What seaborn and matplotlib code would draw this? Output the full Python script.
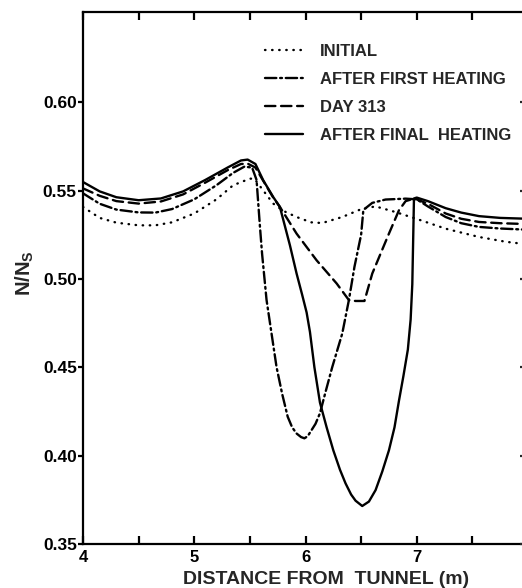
import matplotlib
matplotlib.use("Agg")
import matplotlib.pyplot as plt
import seaborn as sns
import pandas as pd

# ---- data ----
initial_x = [4.00, 4.15, 4.30, 4.50, 4.65, 4.80, 5.00, 5.20, 5.35, 5.50, 5.54, 5.62, 5.71, 5.80,
             5.92, 6.05, 6.15, 6.33, 6.51, 6.63, 6.81, 7.02, 7.26, 7.56, 7.80, 8.00]
initial_y = [0.5407, 0.5345, 0.5318, 0.5303, 0.5303, 0.5320, 0.5370, 0.5450, 0.5530, 0.5567, 0.5567,
             0.5500, 0.5426, 0.5385, 0.5350, 0.5320, 0.5316, 0.5350, 0.5397, 0.5410, 0.5378, 0.5335,
             0.5284, 0.5237, 0.5210, 0.5195]

first_x = [4.00, 4.15, 4.30, 4.50, 4.65, 4.80, 5.00, 5.20, 5.35, 5.45, 5.52, 5.56, 5.59, 5.61, 5.65,
           5.74, 5.79, 5.84, 5.88, 5.92, 5.96, 5.99, 6.02, 6.05, 6.09, 6.13, 6.18, 6.24, 6.33, 6.39,
           6.44, 6.50, 6.52, 6.60, 6.72, 6.90, 7.00, 7.10, 7.26, 7.40, 7.56, 7.75, 8.00]
first_y = [0.5484, 0.5425, 0.5392, 0.5376, 0.5375, 0.5395, 0.5450, 0.5530, 0.5600, 0.5635, 0.5630,
           0.5560, 0.5300, 0.5140, 0.4880, 0.4500, 0.4350, 0.4220, 0.4160, 0.4125, 0.4105, 0.4098,
           0.4110, 0.4140, 0.4180, 0.4240, 0.4360, 0.4500, 0.4690, 0.4880, 0.5068, 0.5250, 0.5390,
           0.5430, 0.5449, 0.5454, 0.5450, 0.5410, 0.5350, 0.5315, 0.5294, 0.5285, 0.5278]

day313_x = [4.00, 4.15, 4.30, 4.50, 4.70, 4.90, 5.10, 5.30, 5.42, 5.48, 5.55, 5.62, 5.71, 5.77, 5.92,
            6.10, 6.28, 6.39, 6.45, 6.53, 6.60, 6.75, 6.84, 6.90, 6.98, 7.10, 7.26, 7.40, 7.56,
            7.75, 8.00]
day313_y = [0.5512, 0.5470, 0.5440, 0.5426, 0.5438, 0.5478, 0.5545, 0.5615, 0.5650, 0.5652, 0.5630,
            0.5555, 0.5460, 0.5407, 0.5256, 0.5105, 0.4974, 0.4880, 0.4875, 0.4875, 0.5030, 0.5256,
            0.5388, 0.5440, 0.5455, 0.5425, 0.5370, 0.5340, 0.5322, 0.5315, 0.5310]

final_x = [4.00, 4.15, 4.30, 4.50, 4.70, 4.90, 5.10, 5.30, 5.42, 5.48, 5.55, 5.62, 5.71, 5.77, 5.86,
           5.92, 5.97, 6.01, 6.04, 6.08, 6.13, 6.19, 6.25, 6.31, 6.36, 6.41, 6.45, 6.51, 6.57, 6.63,
           6.69, 6.75, 6.80, 6.84, 6.88, 6.92, 6.945, 6.96, 6.975, 7.00, 7.10, 7.26, 7.40, 7.56,
           7.75, 8.00]
final_y = [0.5548, 0.5495, 0.5462, 0.5445, 0.5455, 0.5495, 0.5560, 0.5630, 0.5670, 0.5675, 0.5650,
           0.5558, 0.5463, 0.5407, 0.5190, 0.5030, 0.4910, 0.4810, 0.4700, 0.4500, 0.4300, 0.4160,
           0.4030, 0.3920, 0.3843, 0.3780, 0.3745, 0.3715, 0.3740, 0.3805, 0.3910, 0.4030, 0.4160,
           0.4310, 0.4450, 0.4600, 0.4770, 0.4970, 0.5455, 0.5460, 0.5440, 0.5400, 0.5375, 0.5355,
           0.5345, 0.5340]

labels = ["INITIAL", "AFTER FIRST HEATING", "DAY 313", "AFTER FINAL  HEATING"]
x_ticks = [4, 5, 6, 7, 8]
y_ticks = [0.35, 0.40, 0.45, 0.50, 0.55, 0.60]

sns.set_theme(style="white")
plt.rcParams['font.family'] = ['Liberation Sans', 'DejaVu Sans']
plt.rcParams['mathtext.fontset'] = 'custom'
plt.rcParams['mathtext.rm'] = 'Liberation Sans:bold'

W, H = 522, 588
fig = plt.figure(figsize=(W / 100, H / 100), dpi=100)
left_px, right_px, top_px, bot_px = 83, 528, 12, 544
ax = fig.add_axes([left_px / W, 1 - bot_px / H, (right_px - left_px) / W, (bot_px - top_px) / H])

series = [
    (initial_x, initial_y, (0, (0.2, 2.8))),
    (first_x, first_y, (0, (4.8, 1.6, 0.8, 1.6))),
    (day313_x, day313_y, (0, (4.4, 2.4))),
    (final_x, final_y, "-"),
]
for (xs, ys, ls), lab in zip(series, labels):
    df = pd.DataFrame({"x": xs, "y": ys})
    sns.lineplot(data=df, x="x", y="y", ax=ax, color="black", linewidth=1.7,
                 linestyle=ls, sort=False, estimator=None, label=lab,
                 dash_capstyle="round" if ls != "-" else "butt")
handles = ax.get_lines()[:4]
if ax.get_legend():
    ax.get_legend().remove()

ax.set_xlim(4, 8)
ax.set_ylim(0.35, 0.651)
ax.set_xticks(x_ticks)
ax.set_xticklabels([str(t) for t in x_ticks])
ax.set_xticks([4.5, 5.5, 6.5, 7.5], minor=True)
ax.set_yticks(y_ticks)
ax.set_yticklabels([f"{t:.2f}" for t in y_ticks])

for s in ax.spines.values():
    s.set_visible(True)
    s.set_linewidth(1.6)
    s.set_color("black")

ax.tick_params(axis="x", which="both", direction="in", length=5.5, width=1.6,
               top=True, bottom=True, colors="black", labelsize=12, pad=4)
ax.tick_params(axis="y", which="both", direction="out", length=3.5, width=1.6,
               left=True, right=False, colors="black", labelsize=12.5, pad=1)
for lab in ax.get_xticklabels() + ax.get_yticklabels():
    lab.set_fontweight("bold")
ax.set_xlabel("")
ax.set_ylabel("")

# right side inward ticks
axr = ax.twinx()
axr.set_ylim(ax.get_ylim())
axr.set_yticks(y_ticks)
axr.tick_params(axis="y", direction="in", length=6, width=1.6, labelright=False, right=True)
for s in axr.spines.values():
    s.set_visible(False)

fig.text(326 / W, 1 - 579 / H, "DISTANCE FROM  TUNNEL (m)", ha="center", va="center",
         fontsize=14, fontweight="bold")
fig.text(25 / W, 1 - 273 / H, r"N/N$_\mathrm{S}$", ha="center", va="center",
         fontsize=14.5, fontweight="bold", rotation=90)

leg = ax.legend(handles, labels, loc="upper left",
                bbox_to_anchor=(265 / W, 1 - 44 / H), bbox_transform=fig.transFigure,
                frameon=False, fontsize=12, handlelength=2.25, handletextpad=1.05,
                labelspacing=0.78, borderpad=0, borderaxespad=0)
for t in leg.get_texts():
    t.set_fontweight("bold")

fig.savefig("out.png", dpi=100)
